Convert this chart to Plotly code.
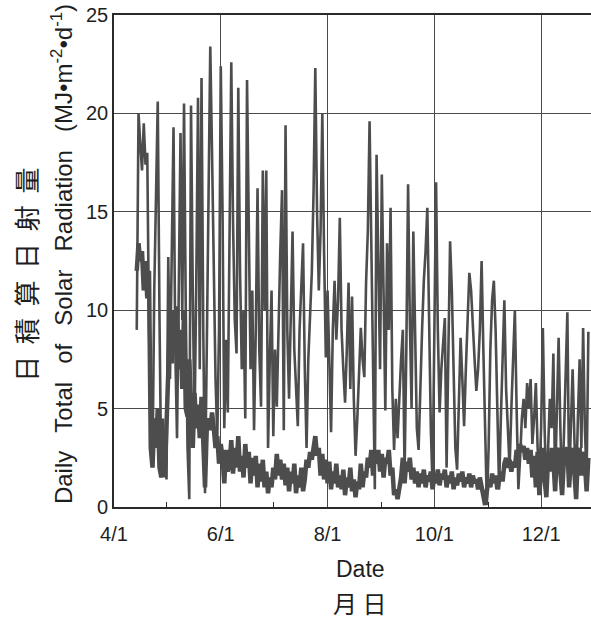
import pandas as pd
import plotly.graph_objects as go

# ---- data ----
start_date = "2001-04-14"

outdoor = [
    9.0, 20.0, 18.5, 17.1, 19.5, 17.4, 18.0, 9.0, 5.0, 2.2,
    11.0, 17.0, 20.6, 9.5, 1.5, 4.5, 2.5, 1.4, 12.7, 6.5,
    14.0, 19.3, 8.0, 3.5, 11.0, 19.0, 9.5, 20.5, 10.0, 3.0,
    0.4, 20.4, 11.0, 4.0, 11.4, 20.8, 7.0, 21.8, 9.0, 0.7,
    8.0, 15.0, 23.4, 18.0, 12.0, 6.5, 3.5, 9.0, 22.4, 15.0,
    4.0, 8.5, 4.8, 14.0, 22.6, 14.5, 9.5, 7.8, 21.3, 12.0,
    7.0, 10.0, 4.5, 21.7, 13.0, 7.0, 11.0, 3.9, 9.0, 16.2,
    8.0, 5.1, 17.1, 10.0, 17.1, 3.0, 7.5, 11.0, 3.6, 8.0,
    5.1, 10.0, 13.0, 16.1, 3.9, 19.4, 9.0, 5.5, 10.0, 14.0,
    8.0, 6.0, 4.1, 9.0, 11.0, 13.4, 7.0, 3.0, 7.5, 9.5,
    11.9, 16.0, 22.3, 15.0, 11.0, 14.0, 20.0, 13.0, 7.6, 11.0,
    6.5, 3.8, 9.0, 11.5, 8.5, 10.5, 14.7, 9.0, 7.0, 5.3,
    8.0, 11.4, 6.0, 10.7, 5.5, 2.6, 4.5, 7.0, 9.1, 7.5,
    6.6, 11.4, 14.0, 19.6, 13.0, 5.0, 0.9, 17.9, 11.0, 7.0,
    16.9, 10.0, 4.9, 13.4, 9.0, 15.2, 6.0, 2.9, 5.5, 3.5,
    6.0, 7.5, 9.0, 1.7, 8.0, 16.4, 9.5, 5.0, 14.0, 8.0,
    4.0, 2.9, 6.5, 9.0, 11.5, 13.0, 15.2, 9.0, 4.0, 1.0,
    9.0, 16.5, 9.0, 4.8, 7.0, 8.5, 9.6, 2.0, 8.0, 13.5,
    11.0, 6.0, 3.0, 1.9, 5.0, 8.6, 6.5, 4.1, 7.0, 10.0,
    11.9, 11.0, 9.0, 7.5, 5.9, 7.0, 9.0, 12.5, 8.0, 3.0,
    0.1, 3.0, 8.0, 10.5, 11.5, 9.0, 4.0, 0.9, 4.5, 8.0,
    10.5, 6.0, 3.5, 2.0, 5.0, 8.0, 10.0, 5.0, 0.9, 2.5,
    4.5, 5.5, 4.0, 6.3, 5.0, 6.5, 3.2, 4.5, 6.3, 3.0,
    1.5, 4.0, 9.1, 4.0, 0.7, 3.0, 5.5, 4.0, 7.8, 1.2,
    4.5, 8.6, 4.0, 0.7, 3.5, 7.0, 9.9, 1.2, 4.0, 7.0,
    3.5, 0.8, 4.5, 7.5, 3.0, 9.1, 4.0, 1.5, 8.9,
]

greenhouse = [
    12.0, 13.4, 12.5, 13.0, 11.0, 12.5, 10.6, 12.0, 3.0, 2.0,
    4.5, 3.0, 5.0, 2.0, 1.5, 3.5, 1.5, 4.5, 8.0, 9.5,
    7.3, 10.0, 8.5, 10.2, 7.0, 9.0, 6.0, 10.0, 5.0, 4.6,
    7.5, 5.5, 3.0, 5.8, 4.0, 5.2, 3.5, 5.6, 3.8, 1.0,
    4.0, 4.5, 3.9, 4.8, 4.0, 3.0, 3.6, 2.2, 3.2, 2.5,
    1.2, 2.9, 1.8, 2.2, 3.4, 1.7, 3.0, 2.0, 3.6, 1.8,
    2.6, 1.5, 3.2, 2.0, 2.8, 1.2, 2.5, 1.6, 2.6, 1.0,
    2.2, 1.3, 2.4, 1.0, 1.8, 0.7, 1.5, 1.0, 2.0, 1.4,
    2.7, 1.6, 2.4, 1.4, 2.2, 1.1, 2.0, 0.8, 1.8, 1.2,
    2.2, 0.7, 1.6, 1.0, 2.0, 0.8, 1.4, 2.4, 2.0, 2.8,
    2.4, 3.2, 3.6, 2.6, 3.0, 1.6, 2.7, 1.4, 2.4, 1.2,
    2.3, 0.9, 1.8, 1.2, 2.2, 1.0, 1.6, 0.9, 1.9, 0.6,
    1.5, 1.0, 2.0, 0.8, 1.4, 0.5, 1.3, 0.9, 2.2, 1.0,
    1.8, 1.5, 2.5, 2.0, 2.9, 1.6, 2.8, 2.2, 2.9, 1.8,
    2.7, 1.5, 2.5, 2.2, 2.9, 1.6, 2.0, 0.6, 0.9, 0.4,
    1.0, 1.5, 2.5, 1.2, 2.3, 1.8, 2.5, 1.4, 2.0, 1.2,
    1.8, 1.0, 1.7, 1.2, 1.9, 1.0, 1.6, 1.3, 1.8, 0.9,
    1.6, 1.2, 1.9, 1.1, 1.7, 1.4, 1.9, 1.0, 1.6, 1.2,
    1.8, 0.9, 1.5, 1.1, 1.7, 1.3, 1.8, 1.0, 1.5, 1.2,
    1.7, 1.0, 1.6, 1.2, 1.4, 0.9, 1.5, 1.1, 0.6, 0.1,
    0.8, 1.4, 1.0, 1.7, 1.2, 1.6, 0.9, 1.4, 1.8, 1.3,
    2.2, 2.5, 2.0, 2.4, 1.8, 2.3, 2.0, 2.9, 2.6, 3.2,
    2.8, 3.1, 2.4, 3.0, 2.2, 2.9, 1.5, 2.6, 1.0, 2.8,
    0.6, 2.0, 3.0, 1.4, 0.5, 2.6, 1.8, 3.0, 2.4, 0.8,
    2.7, 3.0, 1.5, 0.6, 2.4, 2.9, 3.0, 1.0, 2.5, 3.0,
    1.8, 0.4, 2.6, 3.0, 1.6, 2.8, 2.2, 0.8, 2.5,
]

x_tick_dates = ["2001-04-01", "2001-06-01", "2001-08-01", "2001-10-01", "2001-12-01"]
x_tick_labels = ["4/1", "6/1", "8/1", "10/1", "12/1"]
x_minor_dates = ["2001-05-01", "2001-07-01", "2001-09-01", "2001-11-01"]
y_ticks = [0, 5, 10, 15, 20, 25]
x_range = ["2001-04-01", "2001-12-29 12:00"]

dates_out = pd.date_range(start_date, periods=len(outdoor), freq="D")
dates_in = pd.date_range(start_date, periods=len(greenhouse), freq="D")

LINE = "#4d4d4d"
INK = "#1e1e1e"
FONT = "Liberation Sans, Arial, sans-serif"
CJK = "Noto Sans CJK JP, sans-serif"
SP = "\u00a0"

fig = go.Figure()
fig.add_trace(go.Scatter(x=dates_out, y=outdoor, mode="lines",
                         line=dict(color=LINE, width=2.6), showlegend=False))
fig.add_trace(go.Scatter(x=dates_in, y=greenhouse, mode="lines",
                         line=dict(color=LINE, width=4.5), showlegend=False))

fig.update_layout(
    width=591, height=620,
    margin=dict(l=114, r=0, t=15, b=113),
    paper_bgcolor="white", plot_bgcolor="white",
    font=dict(family=FONT, color=INK, size=20),
    xaxis=dict(
        type="date", range=x_range,
        tickvals=x_tick_dates, ticktext=x_tick_labels,
        ticks="", showgrid=True, gridcolor="#4a4a4a", gridwidth=1.2,
        showline=True, linecolor="#2a2a2a", linewidth=1.6, mirror=True,
        tickfont=dict(size=20, family=FONT, color=INK),
        ticklabelstandoff=8,
        minor=dict(tickvals=x_minor_dates, ticks="inside", ticklen=5,
                   tickcolor="#2a2a2a", showgrid=False),
        zeroline=False,
    ),
    yaxis=dict(
        range=[0, 25], tickvals=y_ticks, ticks="",
        showgrid=True, gridcolor="#4a4a4a", gridwidth=1.2,
        showline=True, linecolor="#2a2a2a", linewidth=1.6, mirror=False,
        tickfont=dict(size=20, family=FONT, color=INK),
        zeroline=False,
    ),
)

# y-axis titles (two lines, rotated)
gap = SP * 2 + "\u2009"
daily_title = gap.join(["Daily", "Total", "of", "Solar", "Radiation",
                        "(MJ•m<sup>-2</sup>•d<sup>-1</sup>)"])
fig.add_annotation(text=daily_title,
                   xref="paper", yref="paper", x=-0.109, y=0.514, textangle=-90,
                   showarrow=False, font=dict(size=24, family=FONT, color=INK),
                   xanchor="center", yanchor="middle")
fig.add_annotation(text=(SP * 2).join(list("日積算日射量")),
                   xref="paper", yref="paper", x=-0.187, y=0.4715, textangle=-90,
                   showarrow=False, font=dict(size=26, family=CJK, color=INK),
                   xanchor="center", yanchor="middle")
# x-axis titles
fig.add_annotation(text="Date", xref="paper", yref="paper", x=0.516, y=-0.126,
                   showarrow=False, font=dict(size=23, family=FONT, color=INK),
                   xanchor="center", yanchor="middle")
fig.add_annotation(text=SP.join(list("月日")), xref="paper", yref="paper", x=0.514, y=-0.195,
                   showarrow=False, font=dict(size=24, family=CJK, color=INK),
                   xanchor="center", yanchor="middle")

fig.write_html("out.html", config={"displayModeBar": False},
               post_script="document.body.style.margin='0px';document.body.style.overflow='hidden';")
